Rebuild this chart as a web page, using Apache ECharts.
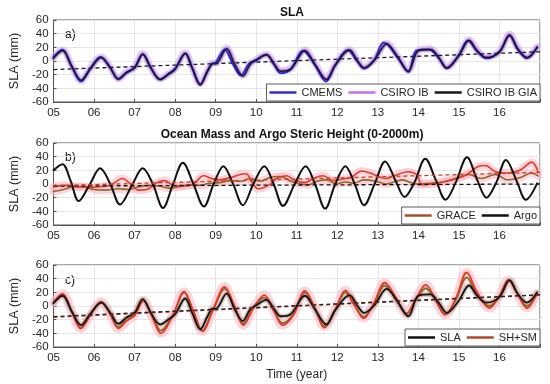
<!DOCTYPE html>
<html><head><meta charset="utf-8">
<script src="https://cdn.jsdelivr.net/npm/echarts@6/dist/echarts.min.js"></script>
<style>html,body{margin:0;padding:0;background:#fff}#c{width:550px;height:384px}</style>
</head><body><div id="c"></div><script>
// ---------- DATA (year, mm) ----------
const yearTicks = [2005, 2006, 2007, 2008, 2009, 2010, 2011, 2012, 2013, 2014, 2015, 2016];
const titles = ['SLA', 'Ocean Mass and Argo Steric Height (0-2000m)'];
const panelLabels = ['a)', 'b)', 'c)'];

const slaGia = [[2005.0,4],[2005.22,15],[2005.45,-8],[2005.68,-28],[2005.9,-12],[2006.18,5],[2006.4,-10],[2006.6,-26],[2006.8,-17],[2007.0,-10],[2007.2,10],[2007.4,-10],[2007.63,-27],[2007.85,-19],[2008.0,-12],[2008.25,11],[2008.42,-10],[2008.62,-34],[2008.8,-15],[2008.92,-4],[2009.0,-4],[2009.27,18],[2009.47,-5],[2009.67,-22],[2009.85,-5],[2010.0,1],[2010.25,9],[2010.45,-5],[2010.6,-15],[2010.85,-12],[2011.2,15],[2011.45,-5],[2011.73,-27],[2011.95,-6],[2012.3,16],[2012.5,0],[2012.66,-10],[2012.9,0],[2013.22,25],[2013.5,5],[2013.75,-15],[2014.0,15],[2014.3,17],[2014.5,5],[2014.7,-10],[2015.0,8],[2015.25,30],[2015.45,15],[2015.68,5],[2016.0,13],[2016.25,38],[2016.45,18],[2016.68,5],[2016.93,20]];
const cmems = [[2005.0,6],[2005.22,17],[2005.45,-8],[2005.68,-30],[2005.9,-12],[2006.15,6],[2006.4,-10],[2006.6,-27],[2006.8,-17],[2007.0,-10],[2007.2,10],[2007.4,-10],[2007.63,-27],[2007.85,-18],[2008.0,-11],[2008.25,11],[2008.42,-10],[2008.62,-35],[2008.8,-14],[2008.92,-4],[2009.0,-2],[2009.22,17],[2009.42,-4],[2009.62,-21],[2009.82,-4],[2010.0,2],[2010.25,9],[2010.45,-6],[2010.6,-18],[2010.85,-12],[2011.15,15],[2011.45,-6],[2011.72,-30],[2011.95,-6],[2012.25,16],[2012.5,-1],[2012.66,-11],[2012.9,1],[2013.15,27],[2013.5,4],[2013.75,-16],[2013.95,15],[2014.25,17],[2014.5,5],[2014.7,-11],[2015.0,9],[2015.22,30],[2015.45,14],[2015.68,4],[2016.0,14],[2016.25,37],[2016.45,17],[2016.68,4],[2016.93,20]];
const csiroIb = [[2005.0,5],[2005.22,16],[2005.45,-7],[2005.68,-29],[2005.9,-11],[2006.18,6],[2006.4,-9],[2006.6,-26],[2006.8,-16],[2007.0,-9],[2007.2,11],[2007.4,-9],[2007.63,-26],[2007.85,-18],[2008.0,-11],[2008.25,12],[2008.42,-9],[2008.62,-33],[2008.8,-14],[2008.92,-3],[2009.0,-3],[2009.27,19],[2009.47,-4],[2009.67,-21],[2009.85,-4],[2010.0,2],[2010.25,10],[2010.45,-4],[2010.6,-14],[2010.85,-11],[2011.2,16],[2011.45,-4],[2011.73,-26],[2011.95,-5],[2012.3,17],[2012.5,1],[2012.66,-9],[2012.9,1],[2013.22,26],[2013.5,6],[2013.75,-14],[2014.0,16],[2014.3,18],[2014.5,6],[2014.7,-9],[2015.0,9],[2015.25,31],[2015.45,16],[2015.68,6],[2016.0,14],[2016.25,39],[2016.45,19],[2016.68,6],[2016.93,21]];
const trendA = [[2005,-12.5],[2017,13.5]];

const argo = [[2005.0,20],[2005.22,29],[2005.42,5],[2005.62,-25],[2005.9,0],[2006.15,23],[2006.4,0],[2006.64,-30],[2006.95,0],[2007.2,23],[2007.45,0],[2007.7,-35],[2007.95,0],[2008.19,31],[2008.45,0],[2008.71,-33],[2008.95,0],[2009.19,26],[2009.43,0],[2009.67,-31],[2009.93,0],[2010.2,26],[2010.43,0],[2010.66,-32],[2010.95,0],[2011.22,26],[2011.45,0],[2011.7,-36],[2011.95,0],[2012.2,26],[2012.43,0],[2012.66,-31],[2012.92,0],[2013.18,33],[2013.43,6],[2013.66,-19],[2013.9,2],[2014.17,37],[2014.43,6],[2014.67,-23],[2014.92,2],[2015.2,39],[2015.45,6],[2015.68,-20],[2015.92,2],[2016.16,35],[2016.42,5],[2016.65,-23],[2016.93,1]];
const graceR = [[2005.0,-4],[2005.3,-2],[2005.6,-4],[2005.9,-5],[2006.1,-4],[2006.4,-2],[2006.7,8],[2006.9,0],[2007.1,-9],[2007.3,-8],[2007.55,2],[2007.75,5],[2007.95,-2],[2008.2,-3],[2008.45,0],[2008.7,12],[2008.9,8],[2009.1,6],[2009.35,9],[2009.6,14],[2009.75,15],[2009.9,2],[2010.05,-7],[2010.3,-2],[2010.5,8],[2010.75,12],[2010.95,5],[2011.2,2],[2011.4,8],[2011.65,12],[2011.9,5],[2012.1,7],[2012.35,10],[2012.6,19],[2012.9,14],[2013.2,8],[2013.4,12],[2013.75,18],[2013.95,14],[2014.1,-1],[2014.4,1],[2014.7,4],[2014.95,8],[2015.2,14],[2015.45,25],[2015.65,27],[2015.9,18],[2016.2,16],[2016.5,20],[2016.8,32],[2016.95,18]];
const graceB = [[2005.0,-11],[2005.25,-8],[2005.5,-4],[2005.75,-4],[2006.0,-8],[2006.3,-9],[2006.6,-7],[2006.85,-8],[2007.1,-4],[2007.35,-2],[2007.6,-3],[2007.85,-6],[2008.1,-4],[2008.35,-1],[2008.6,-2],[2008.85,1],[2009.1,2],[2009.35,5],[2009.6,4],[2009.85,8],[2010.1,4],[2010.35,10],[2010.6,11],[2010.85,4],[2011.1,0],[2011.3,-1],[2011.5,4],[2011.75,6],[2011.97,0],[2012.2,3],[2012.4,1],[2012.65,6],[2012.95,4],[2013.2,0],[2013.45,4],[2013.6,6],[2013.95,0],[2014.3,1],[2014.6,3],[2014.95,9],[2015.25,14],[2015.55,8],[2015.9,14],[2016.2,6],[2016.5,9],[2016.8,16],[2016.95,12]];
const argoTrend = [[2005,-3],[2017,0]];
const graceTrend = [[2005,-2.5],[2017,17]];

const shsmR = [[2005.0,5],[2005.22,18],[2005.45,-8],[2005.67,-33],[2005.92,-12],[2006.17,6],[2006.4,-12],[2006.6,-33],[2006.8,-22],[2007.0,-13],[2007.22,8],[2007.42,-14],[2007.65,-40],[2007.95,-13],[2008.22,21],[2008.45,-8],[2008.67,-37],[2008.95,-3],[2009.22,28],[2009.45,2],[2009.68,-28],[2009.95,-1],[2010.2,16],[2010.42,-5],[2010.65,-28],[2010.92,-13],[2011.2,22],[2011.45,-3],[2011.68,-30],[2011.95,-5],[2012.2,23],[2012.42,2],[2012.65,-18],[2012.9,4],[2013.17,34],[2013.45,12],[2013.7,-11],[2013.95,12],[2014.18,31],[2014.42,10],[2014.66,-13],[2014.93,12],[2015.19,49],[2015.45,20],[2015.75,-3],[2016.0,15],[2016.22,38],[2016.45,17],[2016.68,-3],[2016.92,18]];
const shsmB = [[2005.0,5],[2005.22,17],[2005.45,-8],[2005.67,-32],[2005.92,-12],[2006.17,6],[2006.4,-11],[2006.6,-31],[2006.8,-21],[2007.0,-14],[2007.22,8],[2007.42,-13],[2007.65,-36],[2007.95,-12],[2008.22,20],[2008.45,-8],[2008.67,-36],[2008.95,-4],[2009.22,25],[2009.45,1],[2009.68,-26],[2009.95,0],[2010.2,12],[2010.42,-6],[2010.65,-25],[2010.92,-12],[2011.2,20],[2011.45,-4],[2011.68,-32],[2011.95,-6],[2012.2,20],[2012.42,1],[2012.65,-16],[2012.9,3],[2013.17,30],[2013.45,10],[2013.7,-12],[2013.95,10],[2014.18,26],[2014.42,8],[2014.66,-12],[2014.93,10],[2015.19,42],[2015.45,17],[2015.75,0],[2016.0,14],[2016.22,38],[2016.45,17],[2016.68,0],[2016.92,17]];
const trendSlaC = [[2005,-15.5],[2017,16.5]];
const trendShsmC = [[2005,-16.5],[2017,16]];

// ---------- CHART ----------
const FONT = 'Liberation Sans, Arial, Helvetica, sans-serif';
const TXT = '#262626';
const gridTops = [20, 143, 265];
const gridH = 82;

function ln(name, data, i, color, width, z, extra) {
  return Object.assign({
    type: 'line', name: name, data: data, xAxisIndex: i, yAxisIndex: i,
    symbol: 'none', showSymbol: false, smooth: 0.35, silent: true, animation: false,
    lineStyle: { color: color, width: width, cap: 'round', join: 'round' },
    itemStyle: { color: color }, z: z
  }, extra || {});
}
function band(data, i, color, width, opacity) {
  return ln('', data, i, color, width, 1, { lineStyle: { color: color, width: width, opacity: opacity, cap: 'round', join: 'round' } });
}
function dash(data, i, color) {
  return { type: 'line', data: data, xAxisIndex: i, yAxisIndex: i, symbol: 'none', silent: true, animation: false, z: 6,
    lineStyle: { color: color, width: 1.3, type: [4, 3] } };
}

const grids = gridTops.map(t => ({ left: 45, right: 10, top: t, height: gridH, show: true, borderColor: '#555', borderWidth: 1, backgroundColor: 'transparent' }));
const xAxes = gridTops.map((t, i) => ({
  type: 'value', gridIndex: i, min: 2005, max: 2017, interval: 1,
  axisLine: { show: true, onZero: false, lineStyle: { color: '#555' } },
  axisTick: { show: true, inside: true, length: 3, lineStyle: { color: '#555' } },
  splitLine: { show: true, lineStyle: { color: '#e6e6e6', width: 1 } },
  axisLabel: { color: TXT, fontFamily: FONT, fontSize: 11.5, margin: 5,
    formatter: v => (yearTicks.indexOf(v) >= 0 ? String(v).slice(2) : '') },
  name: i === 2 ? 'Time (year)' : '', nameLocation: 'middle', nameGap: 22,
  nameTextStyle: { color: TXT, fontFamily: FONT, fontSize: 12 }
}));
const yAxes = gridTops.map((t, i) => ({
  type: 'value', gridIndex: i, min: -60, max: 60, interval: 20,
  axisLine: { show: true, onZero: false, lineStyle: { color: '#555' } },
  axisTick: { show: true, inside: true, length: 3, lineStyle: { color: '#555' } },
  splitLine: { show: true, lineStyle: { color: '#e6e6e6', width: 1 } },
  axisLabel: { color: TXT, fontFamily: FONT, fontSize: 11.5, margin: 5 },
  name: 'SLA (mm)', nameLocation: 'middle', nameGap: 27,
  nameTextStyle: { color: TXT, fontFamily: FONT, fontSize: 12.5 }
}));

const legendBase = {
  right: 10, orient: 'horizontal', icon: 'rect', itemWidth: 27, itemHeight: 2.5, itemGap: 6,
  padding: [3, 3], backgroundColor: '#fff', borderColor: '#333', borderWidth: 0.8,
  textStyle: { color: TXT, fontFamily: FONT, fontSize: 11 }, selectedMode: false
};
const legends = [
  Object.assign({}, legendBase, { top: 84, data: ['CMEMS', 'CSIRO IB', 'CSIRO IB GIA'] }),
  Object.assign({}, legendBase, { top: 207, data: ['GRACE', 'Argo'] }),
  Object.assign({}, legendBase, { top: 329, data: ['SLA', 'SH+SM'] })
];

const series = [
  // panel a
  band(csiroIb, 0, '#c98fe8', 7, 0.45),
  band(slaGia, 0, '#6b4a7a', 4, 0.35),
  ln('CSIRO IB', csiroIb, 0, '#c46cf0', 2, 3),
  ln('CMEMS', cmems, 0, '#2b2bd6', 2, 4),
  ln('CSIRO IB GIA', slaGia, 0, '#151525', 1.5, 5),
  dash(trendA, 0, '#1a1a3a'),
  // panel b
  band(graceR, 1, '#ffb0bf', 8, 0.55),
  band(graceB, 1, '#ffb0bf', 8, 0.55),
  ln('', graceB, 1, '#8a6a2a', 1.6, 3),
  ln('GRACE', graceR, 1, '#d8402a', 1.6, 4, { itemStyle: { color: '#a8502a' } }),
  ln('Argo', argo, 1, '#111111', 2, 5),
  dash(argoTrend, 1, '#111111'),
  dash(graceTrend, 1, '#c8402a'),
  // panel c
  band(shsmR, 2, '#ffb0bf', 9, 0.55),
  band(slaGia, 2, '#9a9a82', 5, 0.45),
  ln('', shsmB, 2, '#7d6b2b', 1.8, 3),
  ln('SH+SM', shsmR, 2, '#e03a22', 1.8, 4, { itemStyle: { color: '#b04a28' } }),
  ln('SLA', slaGia, 2, '#111111', 1.8, 5),
  dash(trendShsmC, 2, '#c0402a'),
  dash(trendSlaC, 2, '#222222')
];

const graphics = [
  { type: 'text', x: 292, y: 13, style: { text: titles[0], font: 'bold 12px ' + FONT, fill: '#111', align: 'center', verticalAlign: 'middle' } },
  { type: 'text', x: 292, y: 135, style: { text: titles[1], font: 'bold 12px ' + FONT, fill: '#111', align: 'center', verticalAlign: 'middle' } },
  { type: 'text', x: 65, y: 35, style: { text: panelLabels[0], font: '12px ' + FONT, fill: '#111', verticalAlign: 'middle' } },
  { type: 'text', x: 65, y: 158, style: { text: panelLabels[1], font: '12px ' + FONT, fill: '#111', verticalAlign: 'middle' } },
  { type: 'text', x: 65, y: 281, style: { text: panelLabels[2], font: '12px ' + FONT, fill: '#111', verticalAlign: 'middle' } }
];

const chart = echarts.init(document.getElementById('c'), null, { renderer: 'canvas' });
chart.setOption({
  animation: false,
  backgroundColor: '#fff',
  grid: grids, xAxis: xAxes, yAxis: yAxes,
  legend: legends, series: series, graphic: graphics
});
</script></body></html>
